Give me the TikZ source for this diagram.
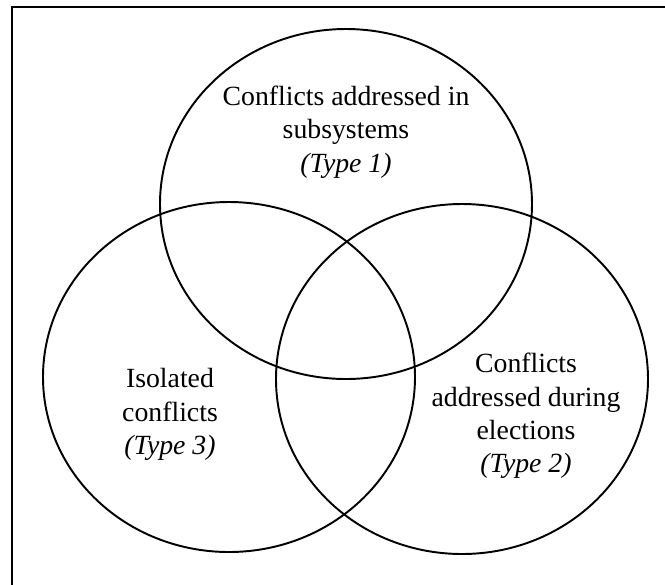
\documentclass[tikz,border=0pt]{standalone}
\usepackage{fontspec}
\setmainfont{Liberation Serif}
\usetikzlibrary{shapes.geometric,positioning,calc}

\tikzset{
	settype/.style={ellipse,draw,line width=1.1pt,minimum width=7.44cm,minimum height=7cm,inner sep=0pt},
	setlabel/.style={align=center,inner sep=0pt,font=\fontsize{15.8}{19}\selectfont}
}

\begin{document}
\begin{tikzpicture}

	\useasboundingbox (0,0) rectangle (13.3,-11.68);
	\clip (0,0) rectangle (13.3,-11.68);
	\draw[line width=1.3pt] (0.24,-13) -- (0.24,-0.14) -- (14,-0.14);

	\node[settype](subsys) at (6.92,-4.08) {};
	\node[settype](isolated) at (4.58,-7.54) {};
	\node[settype](elections) at (9.24,-7.58) {};

	\node[setlabel](subsystext) at ($(subsys.center)+(0,1.44cm)$) {Conflicts addressed in\\ subsystems\\ \textit{(Type 1)}};
	\node[setlabel](isolatedtext) at ($(isolated.center)+(-1.18cm,-0.75cm)$) {Isolated\\ conflicts\\ \textit{(Type 3)}};
	\node[setlabel](electionstext) at ($(elections.center)+(1.28cm,-0.74cm)$) {Conflicts\\ addressed during\\ elections\\ \textit{(Type 2)}};

\end{tikzpicture}
\end{document}
